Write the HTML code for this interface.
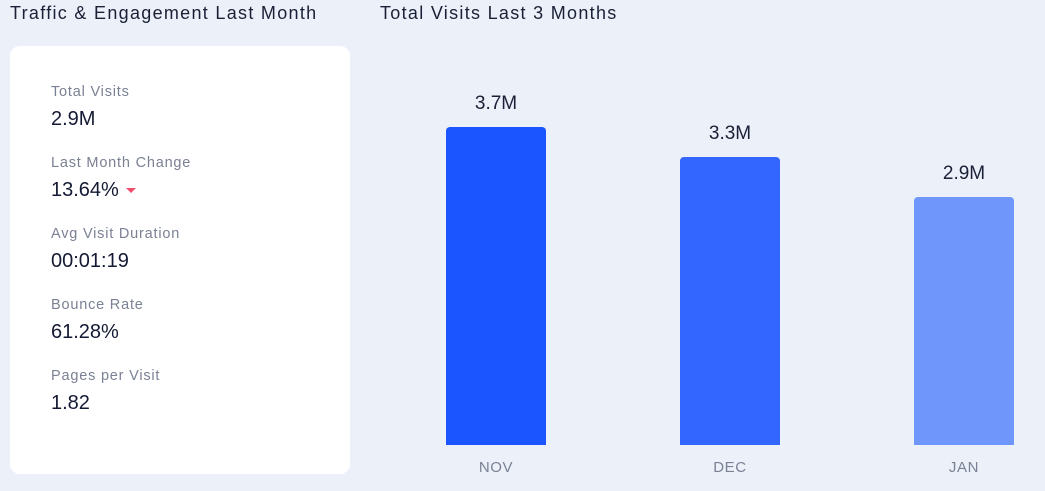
<!DOCTYPE html>
<html><head><style>
body{margin:0;width:1045px;height:491px;background:#ebf0f9;font-family:"Liberation Sans",sans-serif;position:relative;overflow:hidden}
.t{position:absolute;font-size:18px;color:#1b2036;top:3px;letter-spacing:1.3px}
.card{position:absolute;left:10px;top:46px;width:340px;height:428px;background:#fff;border-radius:10px}
.l{position:absolute;left:51px;font-size:14.5px;color:#7b8194;letter-spacing:0.8px}
.v{position:absolute;left:51px;font-size:20px;color:#141a33}
.bar{position:absolute;width:100px;border-radius:4px 4px 0 0;bottom:46px}
.bv{position:absolute;width:100px;text-align:center;font-size:19px;color:#1b2036}
.m{position:absolute;width:100px;text-align:center;font-size:15px;color:#7b8194;top:459px;letter-spacing:0.6px}
</style></head><body>
<div class="t" style="left:10px">Traffic &amp; Engagement Last Month</div>
<div class="t" style="left:380px">Total Visits Last 3 Months</div>
<div class="card"></div>
<div class="l" style="top:84px">Total Visits</div><div class="v" style="top:108px">2.9M</div>
<div class="l" style="top:155px">Last Month Change</div><div class="v" style="top:179px">13.64% <span style="display:inline-block;width:0;height:0;border-left:5px solid transparent;border-right:5px solid transparent;border-top:5px solid #f0506e;vertical-align:middle;margin-left:2px"></span></div>
<div class="l" style="top:226px">Avg Visit Duration</div><div class="v" style="top:250px">00:01:19</div>
<div class="l" style="top:297px">Bounce Rate</div><div class="v" style="top:321px">61.28%</div>
<div class="l" style="top:368px">Pages per Visit</div><div class="v" style="top:392px">1.82</div>
<div class="bar" style="left:446px;top:127px;background:#1a55ff"></div>
<div class="bar" style="left:680px;top:157px;background:#3366ff"></div>
<div class="bar" style="left:914px;top:197px;background:#6f96fb"></div>
<div class="bv" style="left:446px;top:93px">3.7M</div>
<div class="bv" style="left:680px;top:123px">3.3M</div>
<div class="bv" style="left:914px;top:163px">2.9M</div>
<div class="m" style="left:446px">NOV</div>
<div class="m" style="left:680px">DEC</div>
<div class="m" style="left:914px">JAN</div>
</body></html>
